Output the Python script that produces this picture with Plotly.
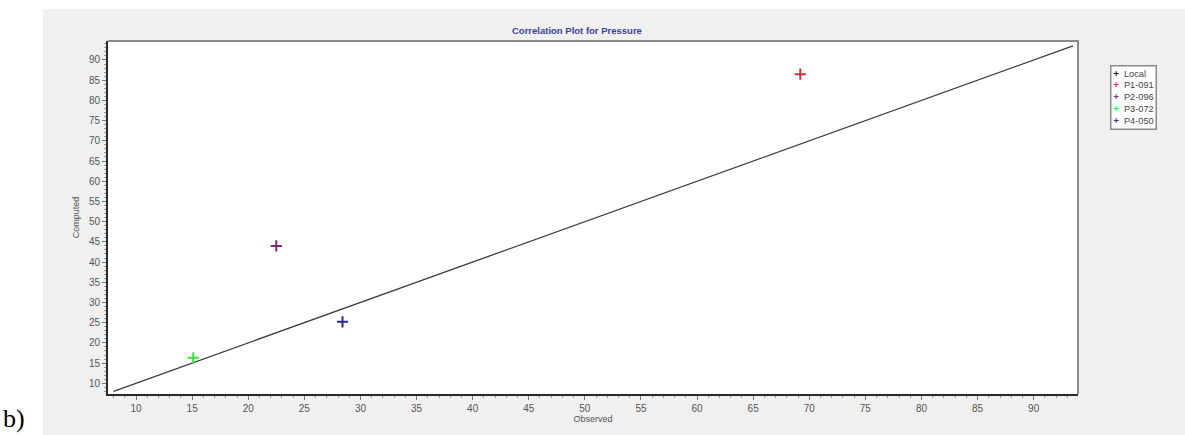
import plotly.graph_objects as go

# ---- data ----
series_names = ["P1-091", "P2-096", "P3-072", "P4-050"]
observed = [69.2, 22.5, 15.1, 28.4]
computed = [86.5, 44.0, 16.3, 25.2]
series_colors = ["#c83232", "#7a2a7a", "#44dd44", "#2a2a9c"]

legend_names = ["Local"] + series_names
legend_colors = ["#000000"] + series_colors

ref_line_x = [8.0, 93.5]
ref_line_y = [8.0, 93.5]

x_ticks = [10, 15, 20, 25, 30, 35, 40, 45, 50, 55, 60, 65, 70, 75, 80, 85, 90]
y_ticks = [10, 15, 20, 25, 30, 35, 40, 45, 50, 55, 60, 65, 70, 75, 80, 85, 90]

# ---- layout geometry (pixels) ----
W, H = 1185, 435
L, R, T, B = 108, 1078, 41, 394
GRAY = "#f0f0f0"
FONT = "Liberation Sans, Arial, sans-serif"


def px(x):
    return (x - L) / (R - L)


def py(y):
    return (B - y) / (B - T)


fig = go.Figure()

fig.add_trace(go.Scatter(
    x=ref_line_x, y=ref_line_y, mode="lines",
    line=dict(color="#3a3a3a", width=1.3), showlegend=False, hoverinfo="skip"))

for name, xo, yc, col in zip(series_names, observed, computed, series_colors):
    fig.add_trace(go.Scatter(
        x=[xo], y=[yc], mode="markers", name=name,
        marker=dict(symbol="cross-thin", size=8, line=dict(color=col, width=2)),
        showlegend=False))

tickfont = dict(family=FONT, size=10, color="#555555")

fig.update_xaxes(
    range=[7.5, 93.95], tickvals=x_ticks, ticktext=[str(v) for v in x_ticks],
    showgrid=False, zeroline=False, showline=True, linewidth=2, linecolor="#2a2a2a",
    ticks="outside", ticklen=4, tickwidth=1, tickcolor="#777777", tickfont=tickfont,
    minor=dict(dtick=1, tick0=0, ticks="outside", ticklen=2, tickcolor="#999999", showgrid=False),
    title=dict(text="Observed", font=dict(family=FONT, size=9, color="#555555"), standoff=0),
)
fig.update_yaxes(
    range=[7.35, 94.7], tickvals=y_ticks, ticktext=[str(v) for v in y_ticks],
    showgrid=False, zeroline=False, showline=True, linewidth=2, linecolor="#2a2a2a",
    ticks="outside", ticklen=4, tickwidth=1, tickcolor="#777777", tickfont=tickfont,
    minor=dict(dtick=1, tick0=0, ticks="outside", ticklen=2, tickcolor="#999999", showgrid=False),
    title=dict(text="Computed", font=dict(family=FONT, size=9, color="#555555"), standoff=8),
)

shapes = [
    # white strips outside the gray panel
    dict(type="rect", xref="paper", yref="paper", x0=px(0), x1=px(43), y0=py(H), y1=py(0),
         fillcolor="white", line=dict(width=0), layer="below"),
    dict(type="rect", xref="paper", yref="paper", x0=px(0), x1=px(W), y0=py(9), y1=py(0),
         fillcolor="white", line=dict(width=0), layer="below"),
    # top and right frame lines
    dict(type="path", xref="paper", yref="paper",
         path="M 0 1 L 1 1 L 1 0", line=dict(color="#8a8a8a", width=2)),
]

legend_text = "<br>".join(
    f"<span style='color:{c}'><b>+</b></span>  {n}"
    for n, c in zip(legend_names, legend_colors))

annotations = [
    dict(text="<b>Correlation Plot for Pressure</b>", x=px(577), y=py(31), xref="paper", yref="paper",
         showarrow=False, xanchor="center", yanchor="middle",
         font=dict(family=FONT, size=9.5, color="#3d3d9e")),
    dict(text="b)", x=px(1), y=py(435), xref="paper", yref="paper", showarrow=False,
         xanchor="left", yanchor="bottom",
         font=dict(family="Liberation Serif, Times New Roman, serif", size=26, color="#000000")),
    dict(text=legend_text, x=px(1110), y=py(65), xref="paper", yref="paper", showarrow=False,
         xanchor="left", yanchor="top", align="left",
         font=dict(family=FONT, size=9.2, color="#444444"),
         bgcolor="white", bordercolor="#8a8a8a", borderwidth=1.5, borderpad=2),
]

fig.update_layout(
    width=W, height=H,
    margin=dict(l=L, r=W - R, t=T, b=H - B, pad=0),
    paper_bgcolor=GRAY, plot_bgcolor="white",
    shapes=shapes, annotations=annotations, showlegend=False,
)

fig.write_html("out.html")
